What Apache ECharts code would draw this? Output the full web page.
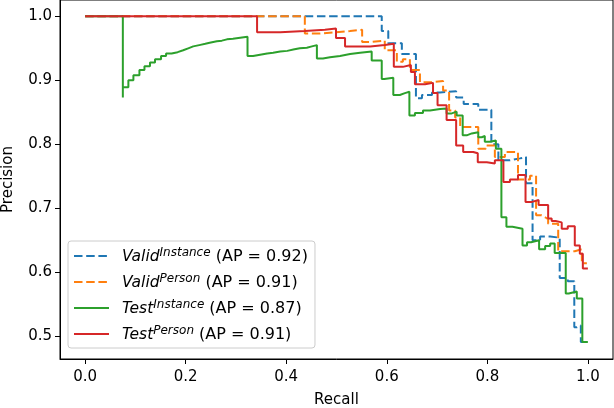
<!DOCTYPE html>
<html>
<head>
<meta charset="utf-8">
<script src="https://cdn.jsdelivr.net/npm/echarts@6/dist/echarts.min.js"></script>
<style>
html,body{margin:0;padding:0;background:#fff;}
#chart{width:614px;height:408px;}
</style>
</head>
<body>
<div id="chart"></div>
<script>
// ---- data ----
const xTicks = [0.0, 0.2, 0.4, 0.6, 0.8, 1.0];
const yTicks = [0.5, 0.6, 0.7, 0.8, 0.9, 1.0];

const validInstanceRecall = [0, 0.590, 0.603, 0.630, 0.658, 0.670, 0.690, 0.706, 0.738, 0.753, 0.782, 0.808, 0.822, 0.845, 0.865, 0.877, 0.890, 0.905, 0.925, 0.944, 0.960, 0.973, 0.978, 0.986, 0.992];
const validInstancePrecision = [1.0, 0.977, 0.958, 0.941, 0.872, 0.877, 0.881, 0.883, 0.873, 0.863, 0.854, 0.800, 0.775, 0.778, 0.780, 0.739, 0.650, 0.656, 0.654, 0.591, 0.586, 0.514, 0.517, 0.491, 0.491];

const validPersonRecall = [0, 0.437, 0.467, 0.497, 0.527, 0.551, 0.571, 0.596, 0.620, 0.632, 0.646, 0.666, 0.690, 0.712, 0.724, 0.736, 0.746, 0.782, 0.797, 0.815, 0.835, 0.861, 0.885, 0.897, 0.908, 0.915, 0.921, 0.941, 0.974, 0.988, 0.998];
const validPersonPrecision = [1.0, 0.973, 0.975, 0.977, 0.979, 0.960, 0.962, 0.947, 0.929, 0.933, 0.916, 0.897, 0.899, 0.884, 0.853, 0.842, 0.827, 0.793, 0.798, 0.780, 0.788, 0.745, 0.751, 0.689, 0.686, 0.683, 0.676, 0.633, 0.636, 0.614, 0.614];

const testInstanceRecall = [0, 0.075, 0.075, 0.086, 0.096, 0.108, 0.118, 0.129, 0.139, 0.151, 0.161, 0.172, 0.184, 0.195, 0.205, 0.215, 0.227, 0.239, 0.250, 0.262, 0.272, 0.282, 0.294, 0.312, 0.323, 0.334, 0.348, 0.362, 0.374, 0.388, 0.402, 0.414, 0.427, 0.441, 0.451, 0.461, 0.473, 0.487, 0.507, 0.527, 0.547, 0.570, 0.590, 0.595, 0.613, 0.626, 0.636, 0.645, 0.656, 0.672, 0.686, 0.706, 0.719, 0.728, 0.739, 0.751, 0.759, 0.769, 0.782, 0.789, 0.795, 0.805, 0.817, 0.828, 0.838, 0.850, 0.870, 0.879, 0.887, 0.903, 0.915, 0.925, 0.934, 0.956, 0.962, 0.978, 0.989, 1.0];
const testInstancePrecision = [1.0, 0.873, 0.889, 0.900, 0.908, 0.916, 0.922, 0.928, 0.933, 0.938, 0.942, 0.944, 0.947, 0.950, 0.953, 0.955, 0.957, 0.959, 0.961, 0.962, 0.964, 0.965, 0.967, 0.968, 0.938, 0.940, 0.942, 0.943, 0.945, 0.946, 0.948, 0.950, 0.951, 0.953, 0.955, 0.934, 0.936, 0.938, 0.941, 0.943, 0.945, 0.931, 0.902, 0.904, 0.877, 0.880, 0.882, 0.845, 0.849, 0.853, 0.855, 0.856, 0.848, 0.851, 0.845, 0.814, 0.817, 0.819, 0.811, 0.813, 0.804, 0.806, 0.793, 0.686, 0.671, 0.668, 0.642, 0.647, 0.650, 0.636, 0.641, 0.645, 0.630, 0.567, 0.570, 0.559, 0.491, 0.491];

const testPersonRecall = [0, 0.342, 0.388, 0.437, 0.477, 0.499, 0.517, 0.567, 0.596, 0.614, 0.632, 0.648, 0.656, 0.676, 0.692, 0.701, 0.719, 0.738, 0.752, 0.772, 0.781, 0.799, 0.815, 0.832, 0.845, 0.861, 0.876, 0.889, 0.902, 0.921, 0.928, 0.936, 0.948, 0.960, 0.974, 0.984, 0.990, 1.0];
const testPersonPrecision = [1.0, 0.975, 0.977, 0.979, 0.981, 0.966, 0.953, 0.955, 0.957, 0.921, 0.924, 0.913, 0.894, 0.896, 0.880, 0.861, 0.838, 0.798, 0.788, 0.786, 0.772, 0.770, 0.775, 0.741, 0.745, 0.752, 0.710, 0.713, 0.705, 0.684, 0.680, 0.678, 0.668, 0.672, 0.642, 0.629, 0.606, 0.606];

const seriesNames = ['Valid Instance', 'Valid Person', 'Test Instance', 'Test Person'];
const legendMain = ['Valid', 'Valid', 'Test', 'Test'];
const legendSup = ['Instance', 'Person', 'Instance', 'Person'];
const legendAP = ['0.92', '0.91', '0.87', '0.91'];

// ---- chart ----
const zip = (r, p) => r.map((v, i) => [v, p[i]]);
const FONT = 'DejaVu Sans';
const dash = [8.5, 3.7];

const chart = echarts.init(document.getElementById('chart'), null, {renderer: 'canvas'});

function mkSeries(idx, r, p, color, dashed) {
  return {
    name: seriesNames[idx],
    type: 'line',
    step: 'end',
    data: zip(r, p),
    symbol: 'none',
    showSymbol: false,
    legendIcon: 'none',
    clip: true,
    lineStyle: {color: color, width: 2, type: dashed ? dash : 'solid'},
    itemStyle: {color: color},
    emphasis: {disabled: true}
  };
}

const option = {
  animation: false,
  backgroundColor: '#fff',
  grid: {
    left: 60, right: 1, top: 0, bottom: 49,
    containLabel: false, outerBoundsMode: 'none',
    show: true, borderColor: '#000', borderWidth: 1, backgroundColor: 'transparent'
  },
  xAxis: {
    type: 'value', min: -0.05, max: 1.05,
    name: 'Recall', nameLocation: 'middle', nameGap: 34,
    nameTextStyle: {fontFamily: FONT, fontSize: 15, color: '#000'},
    axisLine: {show: true, onZero: false, lineStyle: {color: '#000', width: 1}},
    axisTick: {show: true, inside: false, length: 5, customValues: xTicks, lineStyle: {color: '#000', width: 1}},
    axisLabel: {customValues: xTicks, formatter: v => v.toFixed(1), color: '#000', fontFamily: FONT, fontSize: 15, margin: 11},
    splitLine: {show: false}
  },
  yAxis: {
    type: 'value', min: 0.4645, max: 1.0255,
    name: 'Precision', nameLocation: 'middle', nameGap: 44, nameRotate: 90,
    nameTextStyle: {fontFamily: FONT, fontSize: 15, color: '#000'},
    axisLine: {show: true, onZero: false, lineStyle: {color: '#000', width: 1}},
    axisTick: {show: true, inside: false, length: 5, customValues: yTicks, lineStyle: {color: '#000', width: 1}},
    axisLabel: {customValues: yTicks, formatter: v => v.toFixed(1), color: '#000', fontFamily: FONT, fontSize: 15, margin: 8},
    splitLine: {show: false}
  },
  legend: {
    show: true,
    orient: 'vertical',
    left: 68, top: 241,
    padding: [6, 7, 5, 5],
    itemGap: 8,
    itemWidth: 35,
    itemHeight: 14,
    backgroundColor: 'rgba(255,255,255,0.8)',
    borderColor: '#cccccc', borderWidth: 1, borderRadius: 3,
    selectedMode: false,
    itemStyle: {opacity: 0, borderWidth: 0},
    lineStyle: {width: 2},
    data: seriesNames,
    formatter: function (name) {
      const i = seriesNames.indexOf(name);
      return '{m|' + legendMain[i] + '}{s|' + legendSup[i] + '}{n| (AP = ' + legendAP[i] + ')}';
    },
    textStyle: {
      fontFamily: FONT, fontSize: 15, color: '#000',
      rich: {
        m: {fontFamily: FONT, fontSize: 15.5, fontStyle: 'italic', color: '#000', padding: [0, 0, 0, 8], verticalAlign: 'bottom', lineHeight: 18},
        s: {fontFamily: FONT, fontSize: 12, fontStyle: 'italic', color: '#000', verticalAlign: 'top', lineHeight: 18},
        n: {fontFamily: FONT, fontSize: 16, color: '#000', verticalAlign: 'bottom', lineHeight: 18}
      }
    }
  },
  series: [
    mkSeries(0, validInstanceRecall, validInstancePrecision, '#1f77b4', true),
    mkSeries(1, validPersonRecall, validPersonPrecision, '#ff7f0e', true),
    mkSeries(2, testInstanceRecall, testInstancePrecision, '#2ca02c', false),
    mkSeries(3, testPersonRecall, testPersonPrecision, '#d62728', false)
  ]
};
chart.setOption(option);
</script>
</body>
</html>
